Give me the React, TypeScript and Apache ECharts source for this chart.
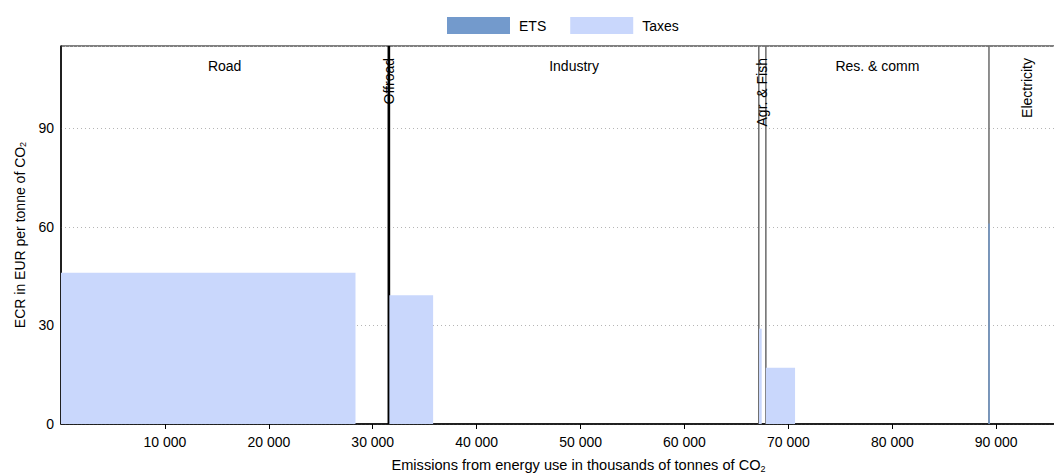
import React, { useEffect, useRef } from "react";
import * as echarts from "echarts";

// Sectors (x extents in thousands of tonnes of CO2)
const sectorNames = ["Road", "Offroad", "Industry", "Agr. & Fish", "Res. & comm", "Electricity"];
const sectorStart = [0, 31500, 31600, 67150, 67830, 89300];
const sectorEnd = [31500, 31600, 67150, 67830, 89300, 96600];

// Taxes blocks
const taxesStart = [0, 31600, 67170, 67830];
const taxesEnd = [28340, 35810, 67430, 70640];
const taxesValue = [46, 39.2, 29, 17.1];

// ETS blocks
const etsStart = [89240];
const etsEnd = [89380];
const etsValue = [61];

const xTicks = [0, 10000, 20000, 30000, 40000, 50000, 60000, 70000, 80000, 90000];
const yTicks = [0, 30, 60, 90];

const FONT = "Liberation Sans, Arial, sans-serif";
const ETS_COLOR = "#739ACC";
const TAX_COLOR = "#C9D7FC";

function fmt(v: number) {
  return String(v).replace(/\B(?=(\d{3})+(?!\d))/g, " ");
}

function blockRender(color: string) {
  return (params: any, api: any) => {
    const x0 = api.value(0);
    const x1 = api.value(1);
    const v = api.value(2);
    const p0 = api.coord([x0, v]);
    const p1 = api.coord([x1, 0]);
    return {
      type: "rect",
      shape: {
        x: p0[0],
        y: p0[1],
        width: Math.max(p1[0] - p0[0], 1.2),
        height: p1[1] - p0[1],
      },
      style: { fill: color },
    };
  };
}

export default function App() {
  const ref = useRef<HTMLDivElement>(null);
  useEffect(() => {
    if (!ref.current) return;
    const chart = echarts.init(ref.current, undefined, { renderer: "svg" });
    const sectorData = sectorNames.map((n, i) => [sectorStart[i], sectorEnd[i], i]);
    const taxData = taxesValue.map((v, i) => [taxesStart[i], taxesEnd[i], v]);
    const etsData = etsValue.map((v, i) => [etsStart[i], etsEnd[i], v]);
    chart.setOption({
      animation: false,
      textStyle: { fontFamily: FONT },
      legend: {
        data: ["ETS", "Taxes"],
        left: 447,
        top: 17,
        padding: 0,
        icon: "rect",
        itemWidth: 63,
        itemHeight: 17,
        itemGap: 24,
        textStyle: { fontSize: 14, color: "#000", fontFamily: FONT, padding: [0, 0, 0, 4] },
      },
      grid: {
        left: 61,
        top: 46,
        height: 378,
        width: 1035,
        show: true,
        borderColor: "#000",
        borderWidth: 1,
        backgroundColor: "transparent",
        outerBoundsMode: "none",
        containLabel: false,
      },
      xAxis: {
        type: "value",
        min: 0,
        max: 99600,
        interval: 10000,
        name: "Emissions from energy use in thousands of tonnes of CO{sub|2}",
        nameLocation: "middle",
        nameGap: 33,
        nameTextStyle: {
          fontSize: 14.6,
          color: "#000",
          fontFamily: FONT,
          rich: { sub: { fontSize: 9, padding: [7, 0, 0, 0], color: "#000", fontFamily: FONT } },
        },
        axisLine: { show: true, lineStyle: { color: "#000", width: 1.5 } },
        axisTick: { show: true, length: 5, lineStyle: { color: "#000" } },
        axisLabel: {
          showMinLabel: false,
          fontSize: 14,
          color: "#000",
          margin: 11,
          fontFamily: FONT,
          formatter: (v: number) => (xTicks.includes(v) ? fmt(v) : ""),
        },
        splitLine: { show: false },
      },
      yAxis: {
        type: "value",
        min: 0,
        max: 115,
        interval: 30,
        name: "ECR in EUR per tonne of CO{sub|2}",
        nameLocation: "middle",
        nameGap: 31,
        nameTextStyle: {
          fontSize: 14,
          color: "#000",
          fontFamily: FONT,
          rich: { sub: { fontSize: 9, padding: [7, 0, 0, 0], color: "#000", fontFamily: FONT } },
        },
        axisLine: { show: true, lineStyle: { color: "#000", width: 1.5 } },
        axisTick: { show: false },
        axisLabel: {
          fontSize: 14,
          color: "#000",
          margin: 7,
          fontFamily: FONT,
          formatter: (v: number) => (yTicks.includes(v) ? String(v) : ""),
        },
        splitLine: { show: true, lineStyle: { color: "#b5b5b5", type: [1, 3], width: 1 } },
      },
      series: [
        {
          type: "custom",
          name: "sectors",
          silent: true,
          z: 1,
          data: sectorData,
          encode: { x: [0, 1] },
          renderItem: (params: any, api: any) => {
            const cs = params.coordSys;
            const i = params.dataIndex;
            const xs = api.coord([api.value(0), 0])[0];
            const xe = api.coord([api.value(1), 0])[0];
            const cx = (xs + xe) / 2;
            const children: any[] = [];
            if (i < sectorNames.length - 1) {
              const nextW =
                api.coord([sectorEnd[i + 1], 0])[0] - api.coord([sectorStart[i + 1], 0])[0];
              const tiny = xe - xs < 3 || nextW < 3;
              children.push({
                type: "line",
                shape: { x1: xe, y1: cs.y, x2: xe, y2: cs.y + cs.height },
                style: { stroke: tiny ? "#000" : "#6a6a6a", lineWidth: tiny ? 1.6 : 1.5 },
              });
            }
            const narrow = xe - xs < 100;
            children.push({
              type: "text",
              x: cx,
              y: narrow ? cs.y + 12 : cs.y + 20,
              rotation: narrow ? Math.PI / 2 : 0,
              style: {
                text: sectorNames[i],
                fontSize: 14,
                fontFamily: FONT,
                fill: "#000",
                align: narrow ? "right" : "center",
                verticalAlign: "middle",
              },
            });
            return { type: "group", children };
          },
        },
        {
          type: "custom",
          name: "Taxes",
          z: 2,
          clip: true,
          itemStyle: { color: TAX_COLOR },
          data: taxData,
          encode: { x: [0, 1], y: 2 },
          renderItem: blockRender(TAX_COLOR),
        },
        {
          type: "custom",
          name: "ETS",
          z: 3,
          clip: true,
          itemStyle: { color: ETS_COLOR },
          data: etsData,
          encode: { x: [0, 1], y: 2 },
          renderItem: blockRender(ETS_COLOR),
        },
      ],
    });
    return () => chart.dispose();
  }, []);
  return (
    <div style={{ position: "absolute", left: 0, top: 0, width: 1054, height: 473, overflow: "hidden" }}>
      <div ref={ref} style={{ width: 1110, height: 473 }} />
    </div>
  );
}
